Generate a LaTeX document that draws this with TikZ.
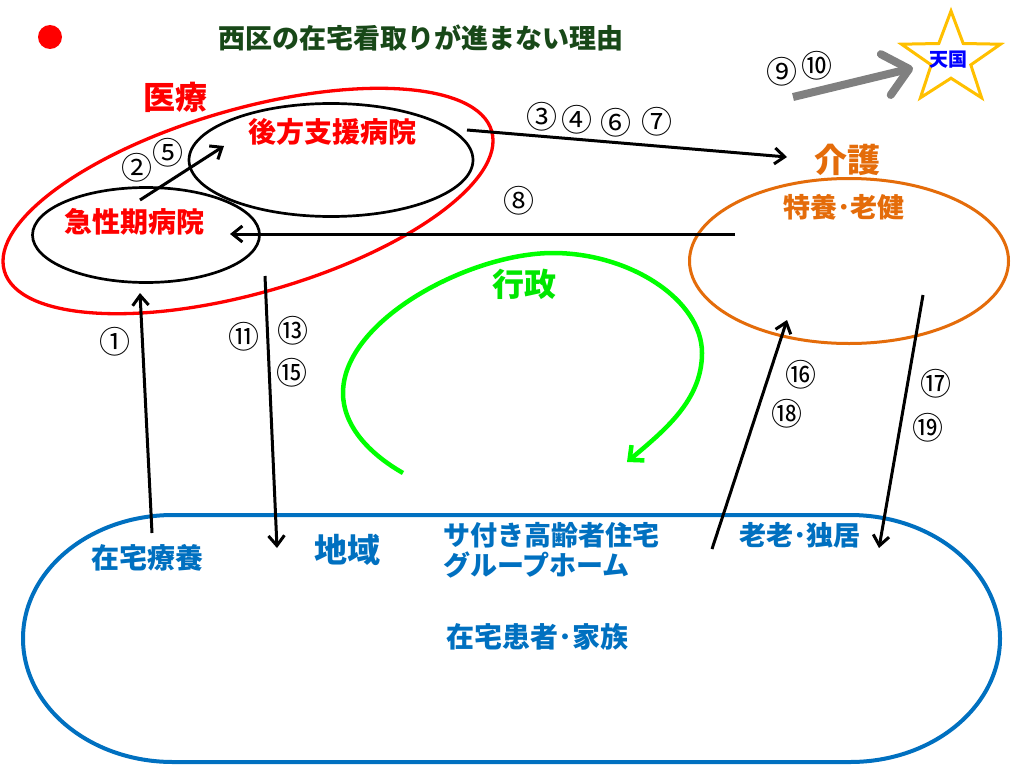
\documentclass[tikz,border=0pt]{standalone}
\usepackage{fontspec}
\newfontfamily\jp{Noto Sans CJK JP}
\usetikzlibrary{arrows.meta,shapes.geometric}
\definecolor{titlegreen}{RGB}{24,72,24}
\definecolor{myred}{RGB}{255,0,0}
\definecolor{myorange}{RGB}{228,108,10}
\definecolor{myblue}{RGB}{0,112,192}
\definecolor{mygreen}{RGB}{0,255,0}
\definecolor{txtgreen}{RGB}{0,230,0}
\definecolor{mygold}{RGB}{255,192,0}
\definecolor{mygray}{RGB}{128,128,128}
\definecolor{starblue}{RGB}{0,0,255}
\begin{document}
\begin{tikzpicture}[x=1pt,y=-1pt,
  txt/.style={font=\jp\bfseries\fontsize{#1}{#1}\selectfont, inner sep=0pt},
  num/.style={font=\jp\fontsize{31}{31}\selectfont, inner sep=0pt},
  oval/.style={draw, ellipse, inner sep=0pt},
  arr/.style={line width=3pt, -{Straight Barb[length=10pt,width=16pt]}},
  dotstyle/.style={circle, fill=myred, minimum size=24pt, inner sep=0pt}]
\useasboundingbox (0,0) rectangle (1024,768);
\fill[white] (0,0) rectangle (1024,768);

% title
\node[dotstyle] (dot) at (50,37) {};
\node[txt=27, text=titlegreen] (title) at (421,38) {西区の在宅看取りが進まない理由};

% medical
\node[oval, draw=myred, line width=3.3pt, minimum width=507pt, minimum height=184pt, rotate=16] (iryo) at (248,201) {};
\node[txt=32, text=myred] (iryot) at (175,97) {医療};
\node[oval, line width=2.7pt, minimum width=284pt, minimum height=113pt] (koho) at (331,160) {};
\node[txt=28, text=myred] (kohot) at (332,132) {後方支援病院};
\node[oval, line width=2.7pt, minimum width=227pt, minimum height=95pt] (kyusei) at (146,235) {};
\node[txt=28, text=myred] (kyuseit) at (134,222) {急性期病院};

% care
\node[oval, draw=myorange, line width=3pt, minimum width=319pt, minimum height=165pt] (kaigo) at (849,261) {};
\node[txt=33, text=myorange] (kaigot) at (847,160) {介護};
\node[txt=27, text=myorange] (tokuyo) at (844,207) {特養･老健};

% heaven star
\draw[draw=mygold, line width=3pt, line join=miter]
  (951,11) -- (963.2,43.5) -- (1000.5,44.2) -- (970.8,64.9) -- (981.6,97.8)
  -- (951,78.2) -- (920.4,97.8) -- (931.2,64.9) -- (901.5,44.2) -- (938.8,43.5) -- cycle;
\node[txt=19, text=starblue] (tengoku) at (948,60) {天国};

% administration
\node[txt=32, text=txtgreen] (gyosei) at (524,284) {行政};
\coordinate (g0) at (403,473);
\coordinate (g1) at (343,393);
\coordinate (g2) at (553,253);
\coordinate (g3) at (702,353);
\coordinate (g4) at (627,462);
\draw[mygreen, line width=4.5pt, -{Straight Barb[length=11pt,width=20pt]}]
  (g0) .. controls (368,453) and (343,425) .. (g1)
       .. controls (343,320) and (470,253) .. (g2)
       .. controls (630,253) and (702,300) .. (g3)
       .. controls (702,400) and (665,430) .. (g4);

% region
\draw[myblue, line width=4pt] (173,515) -- (850,515)
  .. controls (932.8,515) and (1000,570.3) .. (1000,638.5)
  .. controls (1000,706.7) and (932.8,762) .. (850,762) -- (173,762)
  .. controls (90.2,762) and (23,706.7) .. (23,638.5)
  .. controls (23,570.3) and (90.2,515) .. (173,515) -- cycle;
\node[txt=28, text=myblue] (zaitaku) at (147,558) {在宅療養};
\node[txt=33, text=myblue] (chiiki) at (347,550) {地域};
\node[txt=27, text=myblue, anchor=west] (satsuki) at (443,535) {サ付き高齢者住宅};
\node[txt=27, text=myblue, anchor=west] (ghome) at (443,565) {グループホーム};
\node[txt=27, text=myblue] (rorou) at (800,535) {老老･独居};
\node[txt=28, text=myblue] (kazoku) at (537,637) {在宅患者･家族};

% arrow endpoints
\coordinate (a25s) at (140,200); \coordinate (a25e) at (224,146);
\coordinate (a3s) at (467,130);  \coordinate (a3e) at (787,157);
\coordinate (a8s) at (735,234);  \coordinate (a8e) at (230,234);
\coordinate (a9s) at (793,97);   \coordinate (a9e) at (913,68);
\coordinate (a1s) at (152,533);  \coordinate (a1e) at (140,293);
\coordinate (a11s) at (265,276); \coordinate (a11e) at (277,548);
\coordinate (a16s) at (712,549); \coordinate (a16e) at (787,320);
\coordinate (a17s) at (923,295); \coordinate (a17e) at (879,548);

\draw[arr] (a25s) -- (a25e);
\draw[arr] (a3s) -- (a3e);
\draw[arr] (a8s) -- (a8e);
\draw[arr] (a1s) -- (a1e);
\draw[arr] (a11s) -- (a11e);
\draw[arr] (a16s) -- (a16e);
\draw[arr] (a17s) -- (a17e);
\draw[mygray, line width=8pt, -{Straight Barb[length=24pt,width=42pt,line cap=round,line join=round]}] (a9s) -- (a9e);

% numbers
\node[num] (n2) at (137,168) {②};
\node[num] (n5) at (168,153) {⑤};
\node[num] (n3) at (542,117) {③};
\node[num] (n4) at (577,120) {④};
\node[num] (n6) at (616,123) {⑥};
\node[num] (n7) at (657,122) {⑦};
\node[num] (n8) at (519,201) {⑧};
\node[num] (n9) at (782,72) {⑨};
\node[num] (n10) at (817,66) {⑩};
\node[num] (n1) at (115,342) {①};
\node[num] (n11) at (244,337) {⑪};
\node[num] (n13) at (293,331) {⑬};
\node[num] (n15) at (292,373) {⑮};
\node[num] (n16) at (801,375) {⑯};
\node[num] (n18) at (787,414) {⑱};
\node[num] (n17) at (936,384) {⑰};
\node[num] (n19) at (928,428) {⑲};
\end{tikzpicture}
\end{document}
